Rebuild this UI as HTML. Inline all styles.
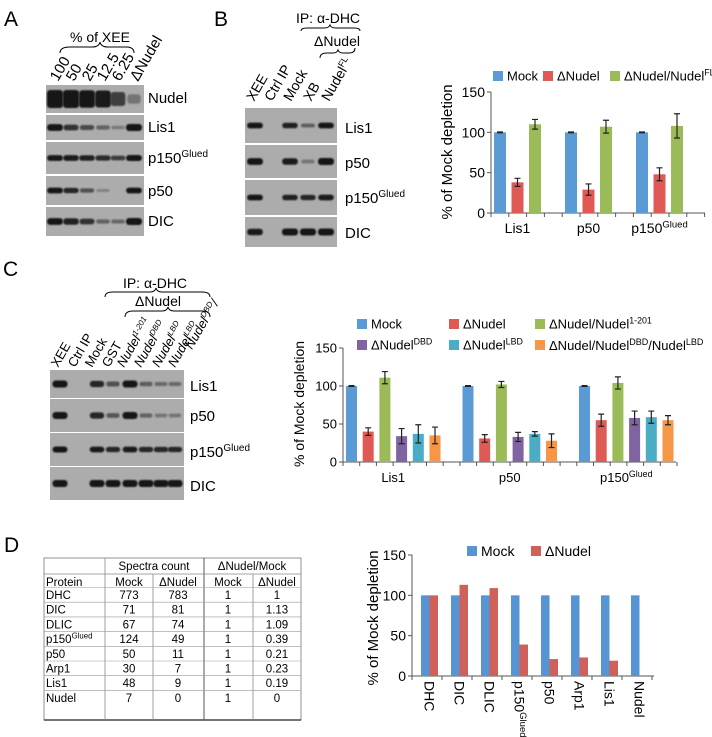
<!DOCTYPE html>
<html><head><meta charset="utf-8">
<style>
html,body{margin:0;padding:0;background:#fff;}
svg{display:block;font-family:"Liberation Sans",Arial,sans-serif;}
</style></head>
<body>
<svg id="fig" width="712" height="737" viewBox="0 0 712 737" xmlns="http://www.w3.org/2000/svg">
<defs>
<filter id="blur" x="-50%" y="-50%" width="200%" height="200%"><feGaussianBlur stdDeviation="0.9"/></filter>
</defs>
<text x="4" y="26" font-size="21">A</text>
<text x="214" y="26" font-size="21">B</text>
<text x="3" y="276" font-size="21">C</text>
<text x="4" y="552" font-size="21">D</text>

<text x="100" y="42" font-size="14" text-anchor="middle">% of XEE</text>
<path d="M60,53 Q60,47 70,47 L92,47 Q99,47 100,42 Q101,47 108,47 L126,47 Q134,47 134,53" fill="none" stroke="#000" stroke-width="1"/>
<g font-size="15">
<text transform="translate(58,82) rotate(-60)">100</text>
<text transform="translate(74,82) rotate(-60)">50</text>
<text transform="translate(90,82) rotate(-60)">25</text>
<text transform="translate(105,82) rotate(-60)">12.5</text>
<text transform="translate(120,82) rotate(-60)">6.25</text>
<text transform="translate(138,82) rotate(-60)">ΔNudel</text>
</g>
<g id="blotA"></g>
<g font-size="15">
<text x="148" y="103">Nudel</text>
<text x="148" y="132">Lis1</text>
<text x="148" y="163">p150<tspan font-size="10" dy="-6">Glued</tspan></text>
<text x="148" y="196">p50</text>
<text x="148" y="226">DIC</text>
</g>

<text x="328" y="23" font-size="14" text-anchor="middle">IP: α-DHC</text>
<path d="M301,31 Q301,28 307,28 L324,28 Q329,28 330,25 Q331,28 336,28 L354,28 Q360,28 360,31" fill="none" stroke="#000" stroke-width="1"/>
<text x="337" y="46" font-size="14" text-anchor="middle">ΔNudel</text>
<path d="M320,58 Q320,53 327,53 L333,53 Q337,53 338,50 Q339,53 343,53 L349,53 Q355,53 355,48" fill="none" stroke="#000" stroke-width="1"/>
<g font-size="14">
<text transform="translate(254,102) rotate(-60)">XEE</text>
<text transform="translate(272,102) rotate(-60)">Ctrl IP</text>
<text transform="translate(291,102) rotate(-60)">Mock</text>
<text transform="translate(311,102) rotate(-60)">XB</text>
<text transform="translate(329,102) rotate(-60)">Nudel<tspan font-size="9" dy="-5">FL</tspan></text>
</g>
<g id="blotB"></g>
<g font-size="15">
<text x="345" y="133">Lis1</text>
<text x="345" y="168">p50</text>
<text x="345" y="203">p150<tspan font-size="10" dy="-6">Glued</tspan></text>
<text x="345" y="238">DIC</text>
</g>

<text x="155" y="288" font-size="14" text-anchor="middle">IP: α-DHC</text>
<path d="M105,297 Q105,292 113,292 L150,292 Q155,292 156,288 Q157,292 162,292 L202,292 Q210,292 210,297" fill="none" stroke="#000" stroke-width="1"/>
<text x="158" y="306" font-size="14" text-anchor="middle">ΔNudel</text>
<path d="M125,317 Q125,311 133,311 L162,311 Q167,311 168,307 Q169,311 174,311 L202,311 Q210,311 210,317" fill="none" stroke="#000" stroke-width="1"/>
<g font-size="13">
<text transform="translate(58,368) rotate(-60)">XEE</text>
<text transform="translate(75,368) rotate(-60)">Ctrl IP</text>
<text transform="translate(92,368) rotate(-60)">Mock</text>
<text transform="translate(109,368) rotate(-60)">GST</text>
<text transform="translate(124,368) rotate(-60)" font-style="italic">Nudel<tspan font-size="8" dy="-5">1-201</tspan></text>
<text transform="translate(141,368) rotate(-60)" font-style="italic">Nudel<tspan font-size="8" dy="-5">DBD</tspan></text>
<text transform="translate(159,368) rotate(-60)" font-style="italic">Nudel<tspan font-size="8" dy="-5">LBD</tspan></text>
<text transform="translate(175,368) rotate(-60)" font-style="italic">Nudel<tspan font-size="8" dy="-5">LBD</tspan></text>
<text transform="translate(192,350) rotate(-60)" font-style="italic">Nudel<tspan font-size="8" dy="-5">DBD</tspan><tspan dy="5">/</tspan></text>
</g>
<g id="blotC"></g>
<g font-size="15">
<text x="190" y="391">Lis1</text>
<text x="190" y="421">p50</text>
<text x="190" y="457">p150<tspan font-size="10" dy="-6">Glued</tspan></text>
<text x="190" y="491">DIC</text>
</g>

<g id="tableD" font-size="11.5">
<rect x="44" y="558" width="257" height="162" fill="#fff" stroke="#777" stroke-width="0.8"/>
<line x1="44" y1="720" x2="301" y2="720" stroke="#222" stroke-width="1.3"/>
<line x1="105" y1="558" x2="105" y2="720" stroke="#888" stroke-width="0.8"/>
<line x1="153" y1="574" x2="153" y2="720" stroke="#888" stroke-width="0.8"/>
<line x1="204" y1="558" x2="204" y2="720" stroke="#555" stroke-width="1"/>
<line x1="253" y1="574" x2="253" y2="720" stroke="#888" stroke-width="0.8"/>
<line x1="44" y1="574" x2="301" y2="574" stroke="#888" stroke-width="0.8"/>
<text x="154" y="570" text-anchor="middle">Spectra count</text>
<text x="252" y="570" text-anchor="middle">ΔNudel/Mock</text>
</g>

<g id="chartB"></g>
<g id="chartC"></g>
<g id="chartD"></g>
</svg>

<script>
// ---------- Chart B data ----------
const bCategories = ["Lis1", "p50", "p150"];
const bSeriesNames = ["Mock", "ΔNudel", "ΔNudel/Nudel"];
const bMock = [100, 100, 100];
const bDNudel = [38, 29, 48];
const bRescue = [110, 107, 108];
const bMockErr = [0.5, 0.5, 0.5];
const bDNudelErr = [5, 7, 8];
const bRescueErr = [6, 8, 15];
const bTicks = [0, 50, 100, 150];

// ---------- Chart C data ----------
const cCategories = ["Lis1", "p50", "p150"];
const cMock = [100, 100, 100];
const cDNudel = [40, 31, 55];
const cRescue1201 = [111, 102, 104];
const cDBD = [34, 33, 58];
const cLBD = [37, 37, 59];
const cDBDLBD = [35, 28, 55];
const cMockErr = [0.5, 0.5, 0.5];
const cDNudelErr = [5, 5, 8];
const cRescue1201Err = [8, 4, 8];
const cDBDErr = [10, 6, 9];
const cLBDErr = [12, 3, 8];
const cDBDLBDErr = [11, 9, 6];
const cTicks = [0, 50, 100, 150];

// ---------- Chart D / table data ----------
const dCategories = ["DHC", "DIC", "DLIC", "p150", "p50", "Arp1", "Lis1", "Nudel"];
const dMockCounts = [773, 71, 67, 124, 50, 30, 48, 7];
const dNudelCounts = [783, 81, 74, 49, 11, 7, 9, 0];
const dMockRatio = [1, 1, 1, 1, 1, 1, 1, 1];
const dNudelRatio = [1, 1.13, 1.09, 0.39, 0.21, 0.23, 0.19, 0];
const dTicks = [0, 50, 100, 150];

const NS = "http://www.w3.org/2000/svg";
function mk(tag, attrs, parent){
  const e = document.createElementNS(NS, tag);
  for (const k in attrs) e.setAttribute(k, attrs[k]);
  if (parent) parent.appendChild(e);
  return e;
}
function addLabel(parent, x, y, base, sup, size, anchor){
  const t = mk('text', {x:x, y:y, 'font-size':size, 'text-anchor':anchor||'middle'}, parent);
  t.appendChild(document.createTextNode(base));
  if (sup){
    const s = mk('tspan', {'font-size': size*0.68, dy: -size*0.4}, t);
    s.textContent = sup;
  }
  return t;
}
function sup(name){
  if (name === "p150") return "Glued";
  return "";
}

function barChart(g, cfg, series, errs, cats, ticks){
  const yS = v => cfg.y0 - (v - 0) * (cfg.y0 - cfg.yTop) / 150;
  const xS = (ci, si) => cfg.x0 + cfg.groupOffset + ci * cfg.groupStep + si * cfg.barStep;
  const ax = mk('line', {x1:cfg.x0, y1:cfg.y0, x2:cfg.xEnd, y2:cfg.y0, stroke:'#555', 'stroke-width':1}, g);
  
  
  const ay = mk('line', {x1:cfg.x0, y1:cfg.y0, x2:cfg.x0, y2:yS(ticks[ticks.length-1]), stroke:'#555', 'stroke-width':1}, g);
  
  
  ticks.forEach(t => {
    const tl = mk('line', {x1:cfg.x0-4, y1:yS(t), x2:cfg.x0, y2:yS(t), stroke:'#555'}, g);
    
    
    const tx = mk('text', {x:cfg.x0-6, y:yS(t)+cfg.font*0.36, 'font-size':cfg.font, 'text-anchor':'end'}, g);
    tx.textContent = t;
    
    
  });
  const nT = Math.round((cfg.xEnd - cfg.x0) / cfg.xTickStep);
  for (let i = 0; i <= nT; i++){
    const x = cfg.x0 + i * cfg.xTickStep;
    const xt = mk('line', {x1:x, y1:cfg.y0, x2:x, y2:cfg.y0+4, stroke:'#555'}, g);
    
    
  }
  cats.forEach((c, ci) => {
    series.forEach((s, si) => {
      const v = s.values[ci];
      const x = xS(ci, si);
      const r = mk('rect', {x:x, y:yS(v), width:cfg.barW, height:yS(0)-yS(v), fill:s.color}, g);
      
      
      if (errs && errs[si]){
        const e = errs[si][ci], cx = x + cfg.barW/2;
        const el = mk('path', {d:`M${cx},${yS(v+e)}V${yS(v-e)}M${cx-3},${yS(v+e)}H${cx+3}M${cx-3},${yS(v-e)}H${cx+3}`, stroke:'#222', 'stroke-width':1.2, fill:'none'}, g);
        
        
      }
    });
    if (cfg.rotLabels){
      const cx = xS(ci, 0) + cfg.barW;
      const t = mk('text', {transform:`translate(${cx-5},${cfg.y0+5}) rotate(90)`, 'font-size':cfg.font}, g);
      t.textContent = c;
      if (sup(c)){ const sp = mk('tspan', {'font-size':cfg.font*0.68, dy:-cfg.font*0.4}, t); sp.textContent = sup(c); }
      
      
    } else {
      const cx = xS(ci, 0) + (series.length * cfg.barStep - (cfg.barStep - cfg.barW)) / 2;
      const t = addLabel(g, cx, cfg.y0 + cfg.labelDy, c, sup(c), cfg.font);
      
      
    }
  });
  const yt = mk('text', {transform:`translate(${cfg.titleX},${cfg.titleY}) rotate(-90)`, 'font-size':cfg.font+1, 'text-anchor':'middle'}, g);
  yt.textContent = '% of Mock depletion';
  
  
}
function legendItem(g, x, y, color, base, supTxt, size){
  const sq = mk('rect', {x:x, y:y-5, width:10, height:10, fill:color}, g);
  
  
  const t = addLabel(g, x+14, y+size*0.36, base, supTxt, size, 'start');
  
  
}

const gB = document.getElementById('chartB');
barChart(gB, {x0:491, y0:213, yTop:92, xEnd:705, groupOffset:3, groupStep:71, barStep:17.5, barW:12, xTickStep:17.8, font:14, labelDy:20, titleX:452, titleY:152},
  [{values:bMock,color:'#5b9bd5'},{values:bDNudel,color:'#e05a55'},{values:bRescue,color:'#9bbb59'}],
  [bMockErr,bDNudelErr,bRescueErr], bCategories, bTicks);
legendItem(gB, 493, 76, '#5b9bd5', 'Mock', '', 13);
legendItem(gB, 543, 76, '#e05a55', 'ΔNudel', '', 13);
legendItem(gB, 610, 76, '#9bbb59', 'ΔNudel/Nudel', 'FL', 13);

const gC = document.getElementById('chartC');
barChart(gC, {x0:343, y0:462, yTop:348, xEnd:676, groupOffset:3, groupStep:116.5, barStep:16.7, barW:11, xTickStep:16.7, font:13, labelDy:20, titleX:304, titleY:404},
  [{values:cMock,color:'#5b9bd5'},{values:cDNudel,color:'#e05a55'},{values:cRescue1201,color:'#9bbb59'},{values:cDBD,color:'#8064a2'},{values:cLBD,color:'#4bacc6'},{values:cDBDLBD,color:'#f79646'}],
  [cMockErr,cDNudelErr,cRescue1201Err,cDBDErr,cLBDErr,cDBDLBDErr], cCategories, cTicks);
legendItem(gC, 357, 324, '#5b9bd5', 'Mock', '', 13);
legendItem(gC, 449, 324, '#e05a55', 'ΔNudel', '', 13);
legendItem(gC, 535, 324, '#9bbb59', 'ΔNudel/Nudel', '1-201', 13);
legendItem(gC, 357, 345, '#8064a2', 'ΔNudel', 'DBD', 13);
legendItem(gC, 449, 345, '#4bacc6', 'ΔNudel', 'LBD', 13);
(function(){
  const sq = mk('rect', {x:535, y:340, width:10, height:10, fill:'#f79646'}, gC);
  
  
  const t = mk('text', {x:549, y:350, 'font-size':13}, gC);
  
  
  t.appendChild(document.createTextNode('ΔNudel/Nudel'));
  let s = mk('tspan', {'font-size':9, dy:-5}, t); s.textContent = 'DBD';
  s = mk('tspan', {dy:5}, t); s.textContent = '/Nudel';
  s = mk('tspan', {'font-size':9, dy:-5}, t); s.textContent = 'LBD';
})();

const gD = document.getElementById('chartD');
barChart(gD, {x0:412, y0:676, yTop:555, xEnd:654, groupOffset:9, groupStep:30, barStep:8.5, barW:8.5, xTickStep:30, font:14, labelDy:20, titleX:378, titleY:618, rotLabels:true},
  [{values:dMockRatio.map(v=>v*100),color:'#5794d3'},{values:dNudelRatio.map(v=>v*100),color:'#d0605a'}],
  null, dCategories, dTicks);
legendItem(gD, 467, 551, '#5794d3', 'Mock', '', 14);
legendItem(gD, 531, 551, '#d0605a', 'ΔNudel', '', 14);

const gT = document.getElementById('tableD');
(function(){
  const hdr = [["Protein",46,'start'],["Mock",129,'middle'],["ΔNudel",178,'middle'],["Mock",228,'middle'],["ΔNudel",277,'middle']];
  hdr.forEach(h => {
    const t = mk('text', {x:h[1], y:586, 'text-anchor':h[2]}, gT);
    t.textContent = h[0];
    
    
  });
  dCategories.forEach((c, i) => {
    const y = 599 + i * 14.7;
    const ln = mk('line', {x1:44, y1:y-11.5, x2:301, y2:y-11.5, stroke:'#999', 'stroke-width':0.6}, gT);
    
    
    const t0 = addLabel(gT, 46, y, c, sup(c), 11.5, 'start');
    
    
    [[dMockCounts[i],129],[dNudelCounts[i],178],[dMockRatio[i],228],[dNudelRatio[i],277]].forEach(v => {
      const t = mk('text', {x:v[1], y:y, 'text-anchor':'middle'}, gT);
      t.textContent = String(v[0]);
      
      
    });
  });
})();

function blot(gid, x0, x1, rows, lanes, intens, bandW, bandH){
  const g = document.getElementById(gid);
  rows.forEach((r, ri) => {
    const bg = mk('rect', {x:x0, y:r[0], width:x1-x0, height:r[1]-r[0], fill:'#acacac'}, g);
    
    
    const cy = (r[0]+r[1])/2;
    lanes.forEach((lx, li) => {
      const a = intens[ri][li];
      if (a <= 0) return;
      const h = bandH[ri] * (0.45 + 0.55*a);
      const w = bandW * (0.8 + 0.2*a);
      const e = mk('rect', {x:lx-w/2, y:cy-h/2, width:w, height:h, rx:Math.min(3, h/2), fill:'#151515', opacity:Math.min(1, 0.25 + 0.8*a), filter:'url(#blur)'}, g);
      
      
    });
  });
  for (let i = 1; i < rows.length; i++){
    const s = mk('rect', {x:x0, y:rows[i-1][1], width:x1-x0, height:rows[i][0]-rows[i-1][1], fill:'#fff'}, g);
    
    
  }
}
blot('blotA', 46, 144, [[85,113],[115,140],[142,174],[176,205],[207,236]],
  [55,71,87,103,118,134],
  [[1,1,0.95,0.9,0.6,0.15],[0.95,0.7,0.5,0.3,0.1,1],[0.95,0.9,0.85,0.75,0.6,1],[0.95,0.8,0.45,0.05,0,0.95],[0.95,0.85,0.7,0.3,0.25,1]],
  16, [18,7,6,6,7]);
blot('blotB', 245, 337, [[108,143],[145,178],[180,215],[217,247]],
  [255,272,290,308,326],
  [[0.95,0,0.85,0.35,0.95],[0.95,0,0.9,0.15,1],[0.95,0,0.85,0.8,0.9],[0.9,0,1,1,1]],
  16, [6,7,6,7]);
blot('blotC', 50, 184, [[370,398],[399,432],[433,466],[467,500]],
  [60,78,97,113,130,146,161,175],
  [[1,0,0.8,0.45,1,0.35,0.25,0.25],[1,0,0.8,0.4,1,0.3,0.15,0.15],[1,0,0.9,0.8,0.9,0.8,0.8,0.8],[1,0,1,1,1,1,1,1]],
  15, [7,7,6,7]);
</script>
</body></html>
